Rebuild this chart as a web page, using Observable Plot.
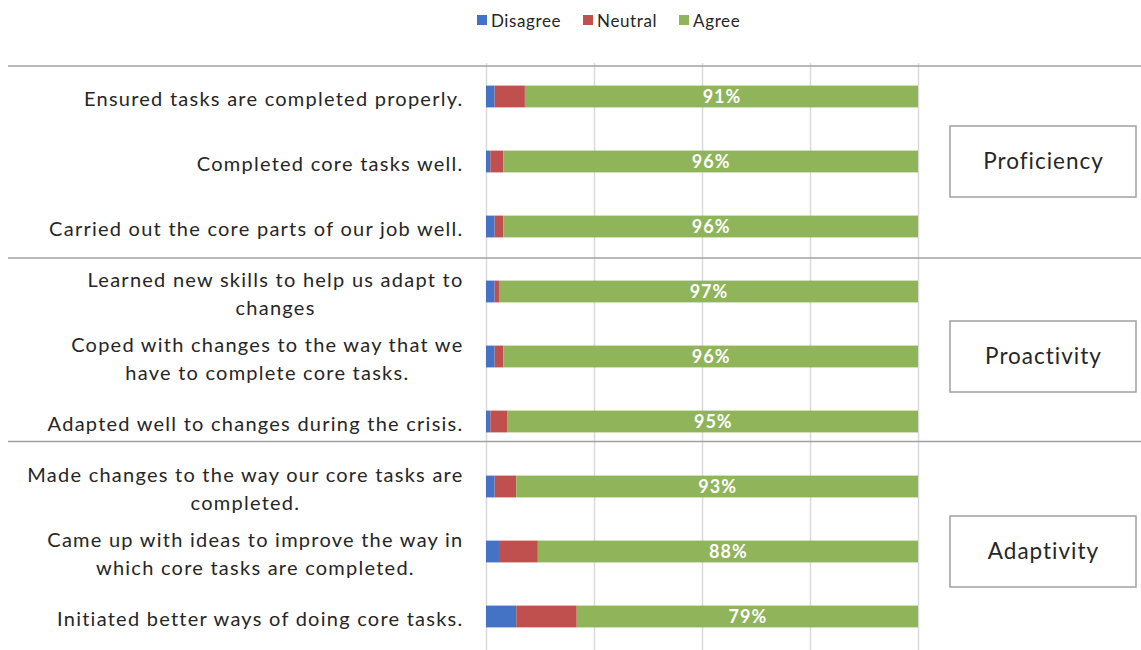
<!DOCTYPE html>
<html><head><meta charset="utf-8">
<script src="https://cdn.jsdelivr.net/npm/d3@7"></script>
<script src="https://cdn.jsdelivr.net/npm/@observablehq/plot@0.6"></script>
<style>
body{margin:0;background:#fff;font-family:Lato,"Open Sans",sans-serif;}
#legend{height:40px;display:flex;align-items:center;padding-left:477px;gap:22px;font-size:17px;letter-spacing:0.6px;color:#262626;}
#legend .it{display:flex;align-items:center;gap:4px;}
#legend .sw{width:10px;height:10px;display:inline-block;}
#chart svg{display:block;}
#chart svg g[aria-label="y-axis tick label"] text{letter-spacing:1.25px;}
#chart svg g[aria-label="text"] text{letter-spacing:1px;}
</style></head>
<body>
<div id="legend"></div>
<div id="chart"></div>
<script>
// ---- data ----
const items = [
  "Ensured tasks are completed properly.",
  "Completed core tasks well.",
  "Carried out the core parts of our job well.",
  "Learned new skills to help us adapt to\nchanges",
  "Coped with changes to the way that we\nhave to complete core tasks.",
  "Adapted well to changes during the crisis.",
  "Made changes to the way our core tasks are\ncompleted.",
  "Came up with ideas to improve the way in\nwhich core tasks are completed.",
  "Initiated better ways of doing core tasks."
];
const groupOf = ["Proficiency","Proficiency","Proficiency","Proactivity","Proactivity","Proactivity","Adaptivity","Adaptivity","Adaptivity"];
const groupNames = ["Proficiency","Proactivity","Adaptivity"];
const responses = ["Disagree","Neutral","Agree"];
const colors = ["#4472C4","#C0504D","#8FB45A"];
const disagree = [2,1,2,2,2,1,2,3,7];
const neutral  = [7,3,2,1,2,4,5,9,14];
const agree    = [91,96,96,97,96,95,93,88,79];
const xTicks = [0,25,50,75,100];

// ---- table ----
const table = [];
items.forEach((it,i)=>{
  table.push({item:it, response:"Disagree", value:disagree[i]});
  table.push({item:it, response:"Neutral", value:neutral[i]});
  table.push({item:it, response:"Agree", value:agree[i]});
});
const groupMid = groupNames.map(g => {
  const idx = groupOf.map((d,i)=>d===g?i:-1).filter(i=>i>=0);
  return {group:g, item: items[idx[Math.floor(idx.length/2)]], first: items[idx[0]]};
});

// legend
const lg = d3.select("#legend");
responses.forEach((r,i)=>{
  const it = lg.append("div").attr("class","it");
  it.append("span").attr("class","sw").style("background",colors[i]);
  it.append("span").text(r);
});

const plot = Plot.plot({
  width: 1141,
  height: 610,
  marginLeft: 486,
  marginRight: 223,
  marginTop: 23,
  marginBottom: 0,
  style: {fontFamily: "Lato, 'Open Sans', sans-serif", color: "#262626", background: "#fff"},
  x: {domain: [0,100], axis: null},
  y: {domain: items, padding: 0, label: null},
  color: {domain: responses, range: colors},
  marks: [
    Plot.gridX(xTicks, {stroke: "#d9d9d9", strokeOpacity: 1, strokeWidth: 1.5}),
    Plot.barX(table, Plot.stackX({x: "value", y: "item", fill: "response", insetTop: 21.6, insetBottom: 21.6})),
    Plot.text(table, Plot.stackX({x: "value", y: "item", z: "response",
      text: d => d.response === "Agree" ? d.value + "%" : null,
      fill: "white", fontWeight: "bold", fontSize: 18})),
    Plot.axisY({tickSize: 0, tickPadding: 23, fontSize: 20, lineHeight: 1.4, label: null, fill: "#262626"}),
    Plot.text(groupMid, {y: "item", text: "group", frameAnchor: "right", dx: 125, textAnchor: "middle", fontSize: 22.5, fill: "#262626"})
  ]
});
document.getElementById("chart").appendChild(plot);

// center wrapped lines of the y-axis labels within their right-aligned block
const svg = d3.select(plot);
svg.selectAll('g[aria-label="y-axis tick label"] text').each(function(){
  const tsp = this.querySelectorAll("tspan");
  if (tsp.length > 1) {
    let w = 0;
    tsp.forEach(t => { w = Math.max(w, t.getComputedTextLength()); });
    this.setAttribute("text-anchor","middle");
    tsp.forEach(t => t.setAttribute("x", -w/2));
  }
});

// group separators and group boxes, positioned from the plot's own scales
const ys = plot.scale("y");
const xs = plot.scale("x");
const step = ys.bandwidth;
const sepNudge = [2, -1, -12.5];
groupMid.forEach((g,i)=>{
  const yy = ys.apply(g.first) + sepNudge[i];
  svg.append("line").attr("x1", 8).attr("x2", 1141).attr("y1", yy).attr("y2", yy)
    .attr("stroke", "#a0a0a0").attr("stroke-width", 1.5);
  const cy = ys.apply(g.item) + step/2;
  const x0 = xs.apply(100) + 32;
  svg.append("rect").attr("x", x0).attr("y", cy - 35.5).attr("width", 186).attr("height", 71)
    .attr("fill", "none").attr("stroke", "#a0a0a0").attr("stroke-width", 1.5);
});
</script>
</body></html>
